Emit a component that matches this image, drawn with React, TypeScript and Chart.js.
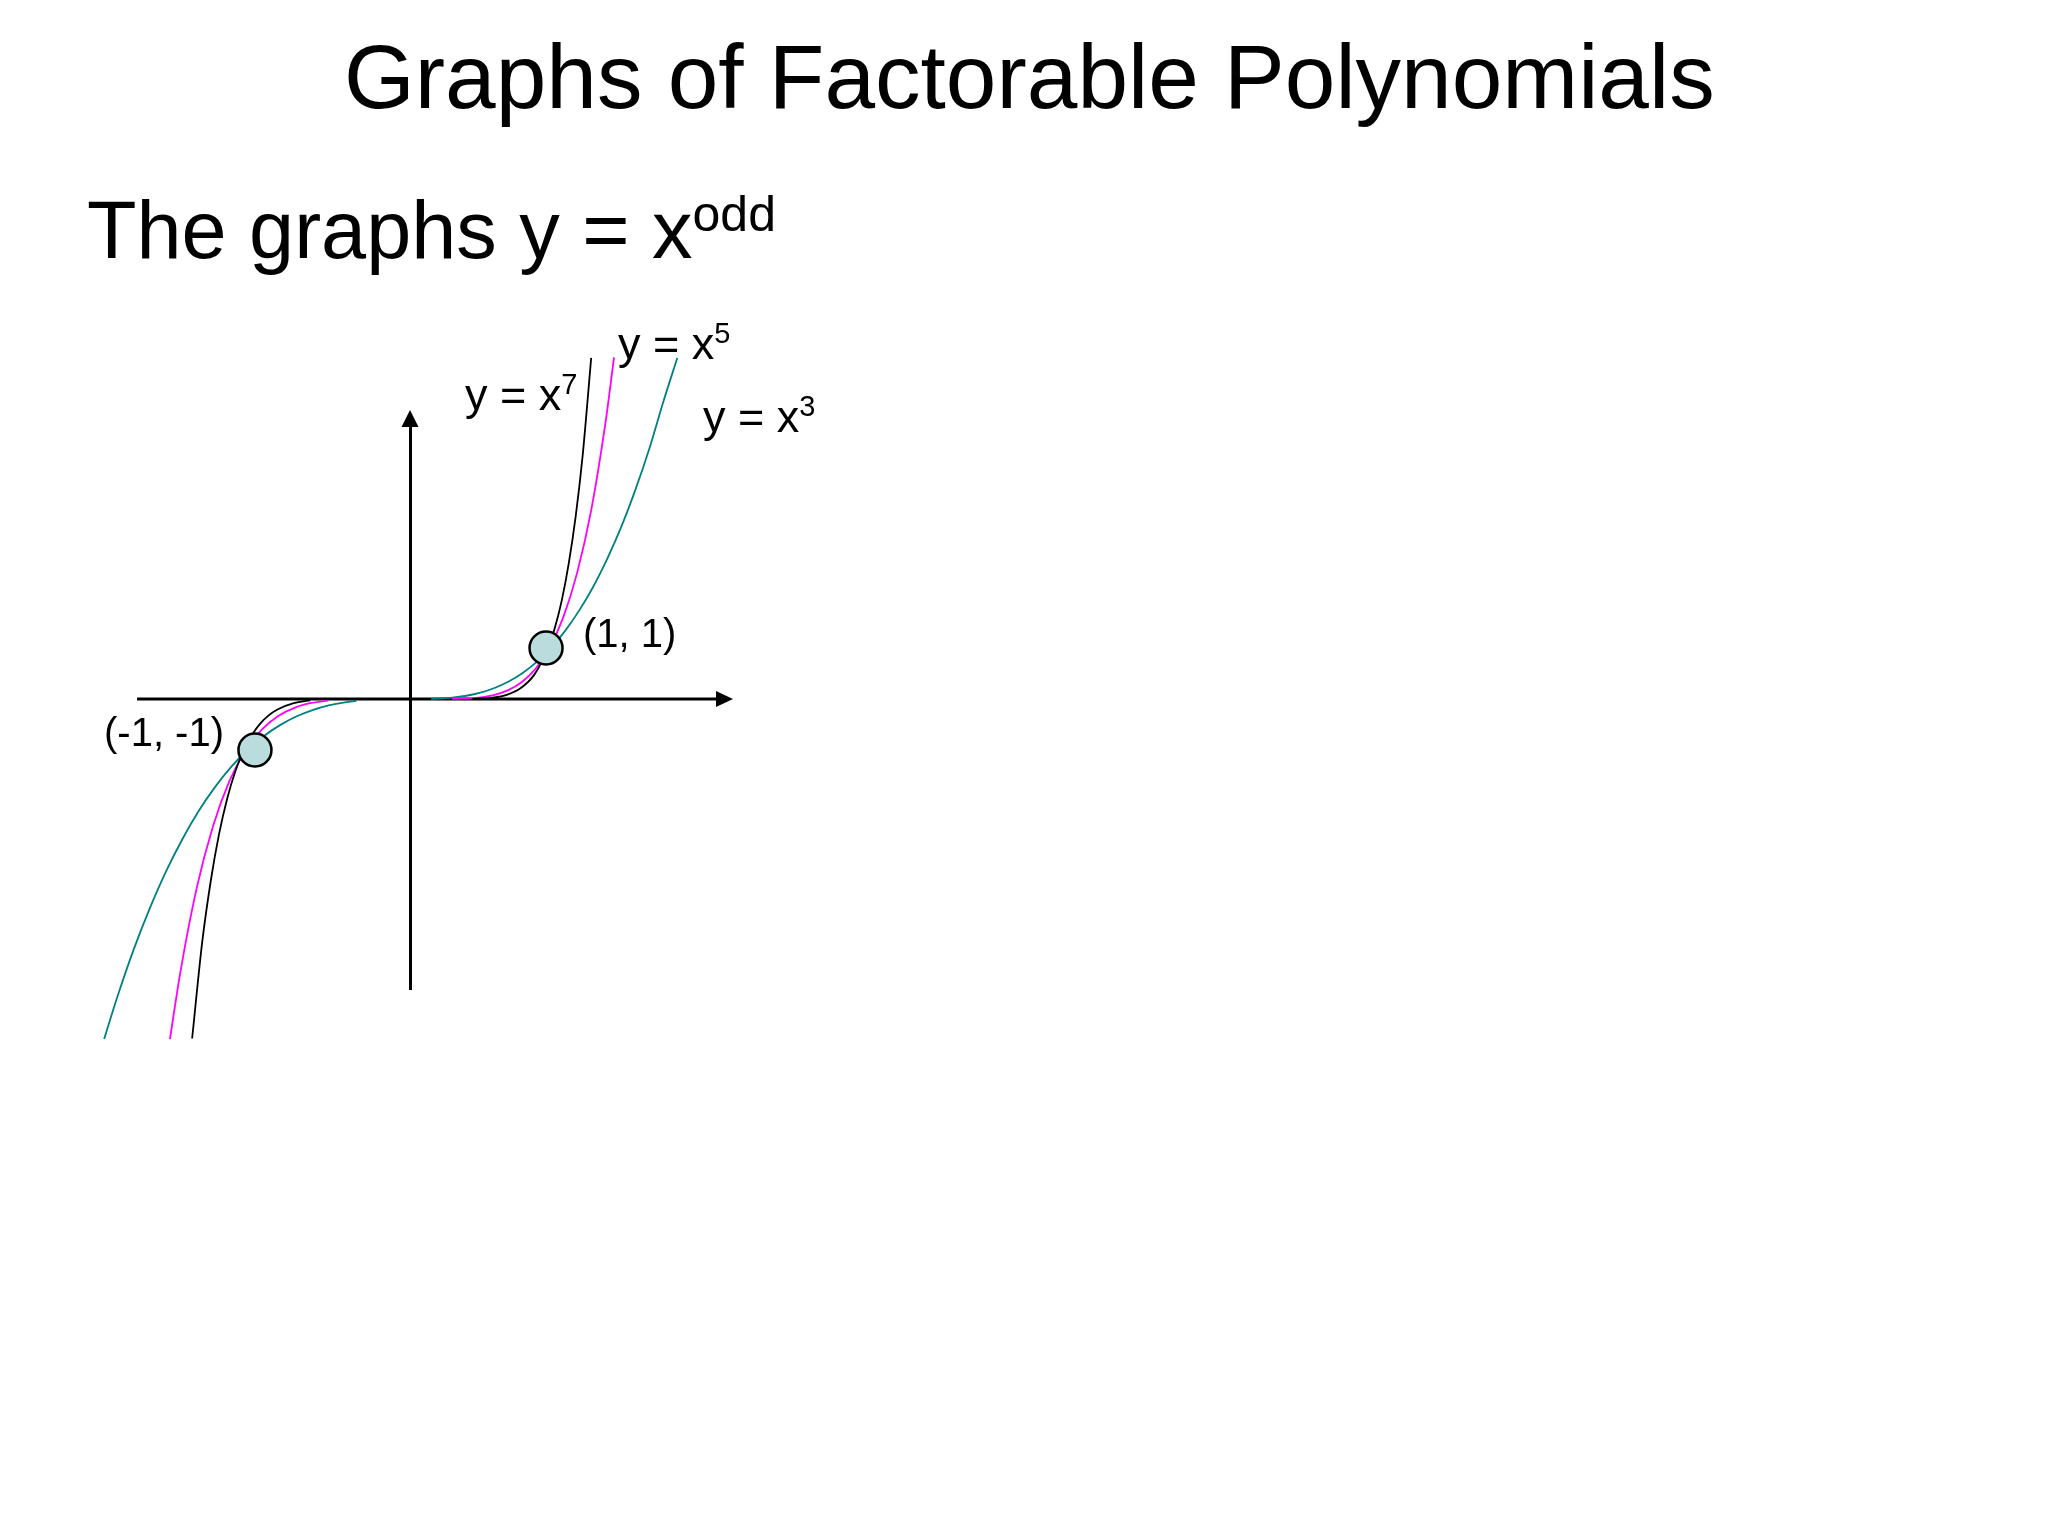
import React, { useEffect, useRef } from "react";
import { Chart, registerables } from "chart.js";

Chart.register(...registerables);

// ---- Data (x unit = right-side unit, y unit = 1) ----
const X_MIN = -2.3;
const X_MAX = 2.257;
const Y_MIN = -5.686;
const Y_MAX = 5.353;

// horizontal axis line (drawn through the scales)
const AXIS_X = [-2.007, 2.257];
const AXIS_Y = [0, 0];

// y = x^3 (teal)
const X3_LEFT = [-2.249, -2.151, -2.032, -1.912, -1.793, -1.673, -1.554, -1.434, -1.315, -1.195, -1.076, -0.956, -0.837, -0.717, -0.598, -0.478, -0.394];
const Y3_LEFT = [-6.666, -5.832, -4.913, -4.096, -3.375, -2.744, -2.197, -1.728, -1.331, -1.0, -0.729, -0.512, -0.343, -0.216, -0.125, -0.064, -0.036];
const X3_RIGHT = [0.155, 0.311, 0.414, 0.518, 0.621, 0.725, 0.828, 0.932, 1.035, 1.139, 1.242, 1.346, 1.449, 1.553, 1.656, 1.76, 1.863, 1.965];
const Y3_RIGHT = [0.003, 0.027, 0.064, 0.125, 0.216, 0.343, 0.512, 0.729, 1.0, 1.331, 1.728, 2.197, 2.744, 3.375, 4.096, 4.913, 5.832, 6.687];

// y = x^5 (magenta)
const X5_LEFT = [-1.765, -1.69, -1.569, -1.448, -1.328, -1.207, -1.086, -0.966, -0.845, -0.724, -0.604];
const Y5_LEFT = [-6.67, -5.378, -3.713, -2.488, -1.611, -1.0, -0.59, -0.328, -0.168, -0.078, -0.031];
const X5_RIGHT = [0.308, 0.461, 0.615, 0.718, 0.82, 0.923, 1.025, 1.128, 1.23, 1.333, 1.435, 1.5];
const Y5_RIGHT = [0.002, 0.018, 0.078, 0.168, 0.328, 0.59, 1.0, 1.611, 2.488, 3.713, 5.378, 6.7];

// y = x^7 (black)
const X7_LEFT = [-1.602, -1.528, -1.466, -1.405, -1.344, -1.283, -1.222, -1.161, -1.1, -1.039, -0.978, -0.855, -0.733];
const Y7_LEFT = [-6.656, -4.768, -3.583, -2.66, -1.949, -1.407, -1.0, -0.698, -0.478, -0.321, -0.21, -0.082, -0.028];
const X7_RIGHT = [0.457, 0.609, 0.711, 0.812, 0.914, 1.015, 1.066, 1.117, 1.167, 1.218, 1.269, 1.332];
const Y7_RIGHT = [0.004, 0.028, 0.082, 0.21, 0.478, 1.0, 1.407, 1.949, 2.66, 3.583, 4.768, 6.69];

// marked points
const MARK_X = [-1.14, 1.0];
const MARK_Y = [-1.0, 1.0];

const TITLE = "Graphs of Factorable Polynomials";
const SUBTITLE = "The graphs y = x";
const SUBTITLE_SUP = "odd";

const FONT = '"Liberation Sans", Arial, Helvetica, sans-serif';

function curve(xl: number[], yl: number[], xr: number[], yr: number[]) {
  const pts: { x: number; y: number | null }[] = xl.map((x, i) => ({ x, y: yl[i] }));
  pts.push({ x: 0, y: null });
  xr.forEach((x, i) => pts.push({ x, y: yr[i] }));
  return pts;
}

const arrowPlugin = {
  id: "axisArrows",
  afterDraw(chart: any) {
    const { ctx, chartArea, scales } = chart;
    const x0 = scales.x.getPixelForValue(0);
    const y0 = scales.y.getPixelForValue(0);
    const xEnd = scales.x.getPixelForValue(AXIS_X[AXIS_X.length - 1]);
    ctx.save();
    ctx.fillStyle = "#000";
    // x arrow
    ctx.beginPath();
    ctx.moveTo(xEnd - 1, y0 - 8);
    ctx.lineTo(xEnd + 16, y0);
    ctx.lineTo(xEnd - 1, y0 + 8);
    ctx.closePath();
    ctx.fill();
    // y arrow
    ctx.beginPath();
    ctx.moveTo(x0 - 8.5, chartArea.top + 1);
    ctx.lineTo(x0, chartArea.top - 16);
    ctx.lineTo(x0 + 8.5, chartArea.top + 1);
    ctx.closePath();
    ctx.fill();
    ctx.restore();
  },
};

function Label({ left, baseline, size, text, sup, supSize, supRaise }: any) {
  return (
    <div
      style={{
        position: "absolute",
        left,
        top: baseline - 0.8465 * size,
        fontFamily: FONT,
        fontSize: size,
        lineHeight: 1,
        whiteSpace: "pre",
        color: "#000",
      }}
    >
      {text}
      {sup ? (
        <span style={{ fontSize: supSize, position: "relative", top: -supRaise }}>{sup}</span>
      ) : null}
    </div>
  );
}

export default function App() {
  const canvasRef = useRef<HTMLCanvasElement | null>(null);

  useEffect(() => {
    const canvas = canvasRef.current;
    if (!canvas) return;
    const marks = MARK_X.map((x, i) => ({ x, y: MARK_Y[i] }));
    const axisPts = AXIS_X.map((x, i) => ({ x, y: AXIS_Y[i] }));
    const chart = new Chart(canvas, {
      type: "line",
      data: {
        datasets: [
          {
            label: "points",
            data: marks,
            showLine: false,
            pointRadius: 16.5,
            pointBackgroundColor: "#BADCDD",
            pointBorderColor: "#000000",
            pointBorderWidth: 2.5,
            order: 0,
            clip: false,
          } as any,
          {
            label: "y = x^7",
            data: curve(X7_LEFT, Y7_LEFT, X7_RIGHT, Y7_RIGHT),
            borderColor: "#000000",
            borderWidth: 1.8,
            pointRadius: 0,
            cubicInterpolationMode: "monotone",
            order: 1,
            clip: false,
          },
          {
            label: "y = x^5",
            data: curve(X5_LEFT, Y5_LEFT, X5_RIGHT, Y5_RIGHT),
            borderColor: "#FF00FF",
            borderWidth: 1.8,
            pointRadius: 0,
            cubicInterpolationMode: "monotone",
            order: 2,
            clip: false,
          },
          {
            label: "y = x^3",
            data: curve(X3_LEFT, Y3_LEFT, X3_RIGHT, Y3_RIGHT),
            borderColor: "#008080",
            borderWidth: 1.8,
            pointRadius: 0,
            cubicInterpolationMode: "monotone",
            order: 3,
            clip: false,
          },
          {
            label: "x-axis",
            data: axisPts,
            borderColor: "#000000",
            borderWidth: 3,
            pointRadius: 0,
            order: 9,
            clip: false,
          },
        ],
      },
      options: {
        responsive: false,
        animation: false,
        events: [],
        layout: { padding: { left: 410 + X_MIN * 136, right: 2048 - 717, top: 426, bottom: 1536 - 989 } },
        plugins: {
          legend: { display: false },
          tooltip: { enabled: false },
          title: { display: false },
        },
        scales: {
          x: {
            type: "linear",
            min: X_MIN,
            max: X_MAX,
            position: { y: 0 } as any,
            grid: { display: false, drawTicks: false },
            ticks: { display: false },
            border: { display: false },
          },
          y: {
            type: "linear",
            min: Y_MIN,
            max: Y_MAX,
            position: { x: 0 } as any,
            grid: { display: false, drawTicks: false },
            ticks: { display: false },
            border: { display: true, color: "#000000", width: 3 },
          },
        },
      },
      plugins: [arrowPlugin],
    } as any);
    return () => chart.destroy();
  }, []);

  return (
    <div
      style={{
        position: "absolute",
        left: 0,
        top: 0,
        width: 2048,
        height: 1536,
        background: "#ffffff",
        overflow: "hidden",
      }}
    >
      <canvas
        ref={canvasRef}
        width={2048}
        height={1536}
        style={{ position: "absolute", left: 0, top: 0, width: 2048, height: 1536 }}
      />
      <Label left={344} baseline={108} size={91} text={TITLE} />
      <Label left={87} baseline={259} size={81} text={SUBTITLE} sup={SUBTITLE_SUP} supSize={50} supRaise={27} />
      <Label left={465} baseline={410} size={45} text="y = x" sup="7" supSize={29} supRaise={16} />
      <Label left={618} baseline={359} size={45} text="y = x" sup="5" supSize={29} supRaise={16} />
      <Label left={703} baseline={432} size={45} text="y = x" sup="3" supSize={29} supRaise={16} />
      <Label left={583} baseline={647} size={40} text="(1, 1)" />
      <Label left={104} baseline={746} size={40} text="(-1, -1)" />
    </div>
  );
}
